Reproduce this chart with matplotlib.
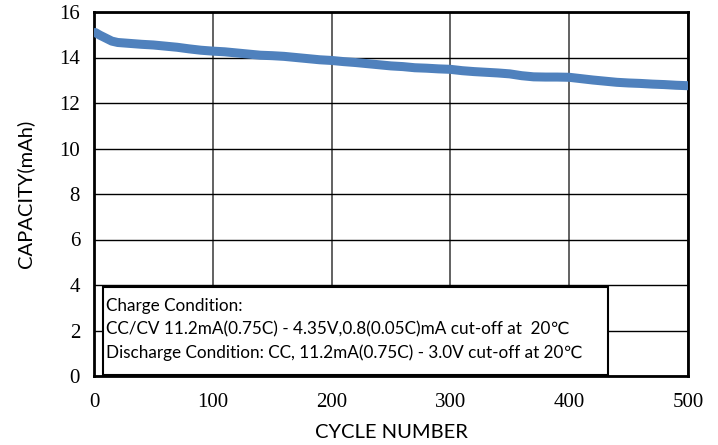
import matplotlib.pyplot as plt
from matplotlib.patches import Rectangle

# cycle life data
cycles = [1, 5, 10, 15, 20, 30, 40, 50, 60, 70, 80, 90, 100, 110, 120, 130, 140, 150, 160, 170,
          180, 190, 200, 210, 220, 230, 240, 250, 260, 270, 280, 290, 300, 310, 320, 330, 340,
          350, 360, 370, 380, 390, 400, 410, 420, 430, 440, 450, 460, 470, 480, 490, 500]
capacity = [15.10, 14.98, 14.85, 14.72, 14.66, 14.62, 14.58, 14.55, 14.50, 14.45, 14.38, 14.32,
            14.28, 14.25, 14.20, 14.15, 14.10, 14.08, 14.05, 14.00, 13.95, 13.90, 13.87, 13.82,
            13.78, 13.73, 13.68, 13.63, 13.60, 13.55, 13.53, 13.50, 13.48, 13.42, 13.38, 13.35,
            13.32, 13.28, 13.20, 13.15, 13.14, 13.14, 13.13, 13.07, 13.01, 12.96, 12.91, 12.88,
            12.86, 12.83, 12.81, 12.78, 12.76]

xticks = [0, 100, 200, 300, 400, 500]
yticks = [0, 2, 4, 6, 8, 10, 12, 14, 16]
note = ["Charge Condition:",
        "CC/CV 11.2mA(0.75C) - 4.35V,0.8(0.05C)mA cut-off at  20\u2103",
        "Discharge Condition: CC, 11.2mA(0.75C) - 3.0V cut-off at 20\u2103"]

fig = plt.figure(figsize=(7.18, 4.45), dpi=100)
ax = fig.add_axes([94/718, 1 - 376/445, 594/718, 364/445])

ax.plot(cycles, capacity, color='#4F81BD', lw=6.5, solid_capstyle='round', zorder=3)

ax.set_xlim(0, 500)
ax.set_ylim(0, 16)
ax.set_xticks(xticks)
ax.set_yticks(yticks)
ax.grid(axis='y', color='black', lw=1)
ax.grid(axis='x', color='#555555', lw=1.3)
ax.set_axisbelow(True)
for s in ax.spines.values():
    s.set_linewidth(2)
    s.set_color('black')
ax.tick_params(axis='x', length=0, pad=12)
ax.tick_params(axis='y', length=0, pad=10)
for lab in ax.get_xticklabels() + ax.get_yticklabels():
    lab.set_fontfamily('Liberation Serif')
    lab.set_fontsize(15)

ax.set_xlabel('CYCLE NUMBER', fontfamily='Lato', fontsize=14.5, labelpad=9)
ax.set_ylabel('CAPACITY(mAh)', fontfamily='Lato', fontsize=14.5, labelpad=18)

# condition box
ax.add_patch(Rectangle((9/594, 0.003), 505/594, 88/364, transform=ax.transAxes,
                       facecolor='white', edgecolor='black', lw=1.5, zorder=4))
for i, line in enumerate(note):
    ax.text(12/594, (376 - 306 - 23.5 * i) / 364, line, transform=ax.transAxes,
            fontfamily=['Lato', 'DejaVu Sans'], fontsize=12.3, va='center', ha='left', zorder=5)

fig.savefig('out.png', dpi=100)
